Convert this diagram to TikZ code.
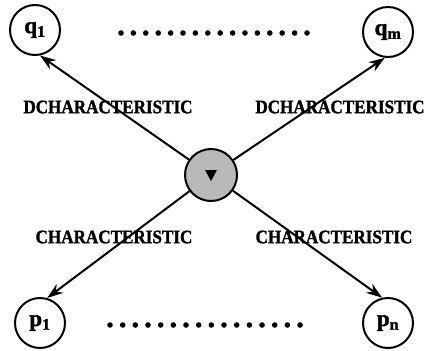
\documentclass[tikz,border=0pt]{standalone}
\usepackage{fontspec}
\setmainfont{Liberation Serif}
\newfontfamily\heavyfont{Liberation Serif}[BoldFeatures={FakeBold=1.6}]
\usetikzlibrary{arrows.meta,calc}
\tikzset{
  ent/.style={circle, draw, line width=2pt, minimum size=50pt, inner sep=0pt,
              font=\heavyfont\fontsize{23}{23}\selectfont\bfseries},
  hub/.style={circle, draw, line width=2pt, minimum size=52pt, inner sep=0pt, fill=gray!55},
  rel/.style={font=\heavyfont\fontsize{19}{19}\selectfont\bfseries, inner sep=0pt, xscale=0.9},
  arr/.style={line width=2pt, -{Stealth[length=16pt,width=11pt]}},
  dotmark/.style={fill=black}
}
\begin{document}
\begin{tikzpicture}[x=1pt,y=-1pt]
\useasboundingbox (0,0) rectangle (427,350);
\node[ent] (q1) at (35,30) {q\textsubscript{1}};
\node[ent] (qm) at (388,32) {q\textsubscript{m}};
\node[ent] (p1) at (40,323) {p\textsubscript{1}};
\node[ent] (pn) at (388,323) {p\textsubscript{n}};
\node[hub] (c) at (211,175) {};
\fill ($(c.center)+(-6,-5)$) -- ($(c.center)+(6,-5)$) -- ($(c.center)+(0,6)$) -- cycle;
\draw[arr] (c) -- (q1.-79);
\draw[arr] (c) -- (qm.-97);
\draw[arr] (c) -- (p1.74);
\draw[arr] (c) -- (pn.103);
\node[rel] (lD) at (108,107) {DCHARACTERISTIC};
\node[rel] (rD) at (340,107) {DCHARACTERISTIC};
\node[rel] (lC) at (114,237) {CHARACTERISTIC};
\node[rel] (rC) at (334,237) {CHARACTERISTIC};
\foreach \i in {0,...,15} {
  \fill[dotmark] (121+\i*12.4,33) circle (2.8);
  \fill[dotmark] (110+\i*12.67,325) circle (2.8);
}
\end{tikzpicture}
\end{document}
